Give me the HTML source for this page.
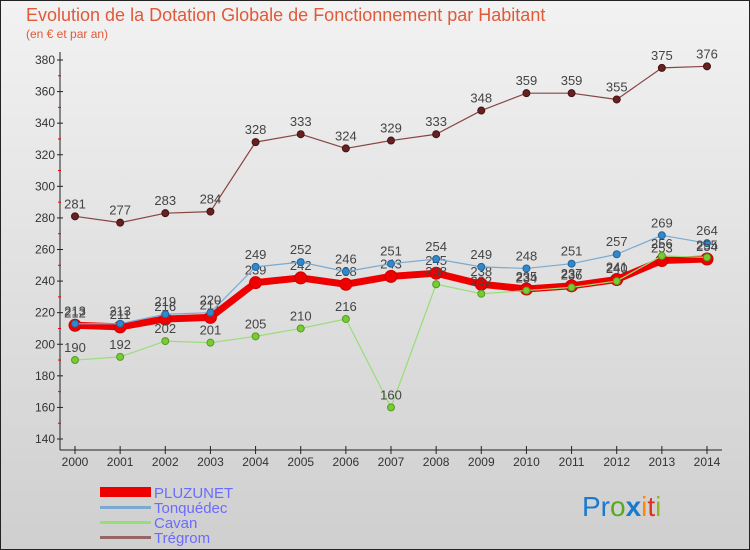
<!DOCTYPE html>
<html><head><meta charset="utf-8"><style>
body{margin:0;}
svg{display:block;font-family:"Liberation Sans","DejaVu Sans",sans-serif;}
</style></head><body>
<svg width="750" height="550" viewBox="0 0 750 550">
<defs><linearGradient id="bg" x1="0" y1="0" x2="0" y2="1"><stop offset="0" stop-color="#f2f2f2"/><stop offset="1" stop-color="#cfcfcf"/></linearGradient></defs>
<rect x="0.5" y="0.5" width="749" height="549" fill="url(#bg)" stroke="#222"/>
<text x="26" y="21" font-size="18" fill="#e05a3a">Evolution de la Dotation Globale de Fonctionnement par Habitant</text>
<text x="26" y="38" font-size="12" fill="#e05a3a">(en € et par an)</text>
<g id="axes"></g>
<g id="series"></g>
<g>
<rect x="100" y="487" width="51" height="10" fill="#e00"/>
<text x="154" y="498" font-size="15" fill="#6b6bff">PLUZUNET</text>
<rect x="100" y="506" width="51" height="3" fill="#7aaad0"/>
<text x="154" y="513" font-size="15" fill="#6b6bff">Tonquédec</text>
<rect x="100" y="521" width="51" height="3" fill="#99dd77"/>
<text x="154" y="528" font-size="15" fill="#6b6bff">Cavan</text>
<rect x="100" y="536" width="51" height="3" fill="#996666"/>
<text x="154" y="543" font-size="15" fill="#6b6bff">Trégrom</text>
</g>
<text x="582" y="516" font-size="28"><tspan fill="#1a7ad0">Pr</tspan><tspan fill="#55aa22">o</tspan><tspan fill="#1a7ad0" font-weight="bold">x</tspan><tspan fill="#ff8800">i</tspan><tspan fill="#dd3322">t</tspan><tspan fill="#88bb22">i</tspan></text>
</svg>
<script>
const years=[2000,2001,2002,2003,2004,2005,2006,2007,2008,2009,2010,2011,2012,2013,2014];
const yTicks=[140,160,180,200,220,240,260,280,300,320,340,360,380];
const pluzunet=[212,211,216,217,239,242,238,243,245,238,235,237,241,253,254];
const tonquedec=[213,213,219,220,249,252,246,251,254,249,248,251,257,269,264];
const cavan=[190,192,202,201,205,210,216,160,238,232,234,236,240,256,255];
const tregrom=[281,277,283,284,328,333,324,329,333,348,359,359,355,375,376];
const NS="http://www.w3.org/2000/svg";
const X=i=>75+i*(707-75)/(years.length-1);
const Y=v=>439-(v-140)*(439-60)/240;
function mk(tag,at,parent,txt){const e=document.createElementNS(NS,tag);for(const k in at)e.setAttribute(k,at[k]);if(txt!==undefined)e.textContent=txt;parent.appendChild(e);return e;}
const ax=document.getElementById('axes');
const yl=mk('line',{x1:60,y1:52,x2:60,y2:450,stroke:'#222'},ax);


const xl=mk('line',{x1:60,y1:450,x2:722,y2:450,stroke:'#222'},ax);


yTicks.forEach(v=>{
 mk('line',{x1:57,y1:Y(v),x2:63,y2:Y(v),stroke:'#222'},ax);
 if(v<380)mk('line',{x1:58,y1:Y(v+10),x2:61,y2:Y(v+10),stroke:'#e00'},ax);
 const t=mk('text',{x:55,y:Y(v)+4,'font-size':12,fill:'#333','text-anchor':'end'},ax,v);
 
 
});
years.forEach((yr,i)=>{
 mk('line',{x1:X(i),y1:446,x2:X(i),y2:454,stroke:'#222'},ax);
 const t=mk('text',{x:X(i),y:466,'font-size':12,fill:'#333','text-anchor':'middle'},ax,yr);
 
 
});
const sg=document.getElementById('series');
function draw(name,vals,color,width,r,dot,dotStroke){
 const g=mk('g',{},sg);
 
 
 const p=mk('polyline',{points:vals.map((v,i)=>X(i)+','+Y(v)).join(' '),fill:'none',stroke:color,'stroke-width':width,'stroke-linejoin':'round'},g);
 
 
 vals.forEach((v,i)=>{
  const c=mk('circle',{cx:X(i),cy:Y(v),r:r,fill:dot,stroke:dotStroke,'stroke-width':1},g);
  
  
  const t=mk('text',{x:X(i),y:Y(v)-8,'font-size':13,fill:'#444','text-anchor':'middle'},g,v);
  
  
 });
}
draw('tregrom',tregrom,'#884444',1.2,3.5,'#662222','#441111');
draw('pluzunet',pluzunet,'#e00',7,6,'#e00','#c00');
draw('tonquedec',tonquedec,'#7aaad0',1.2,3.5,'#3388cc','#226699');
draw('cavan',cavan,'#99dd77',1.2,3.5,'#77cc33','#559922');
</script>
</body></html>
